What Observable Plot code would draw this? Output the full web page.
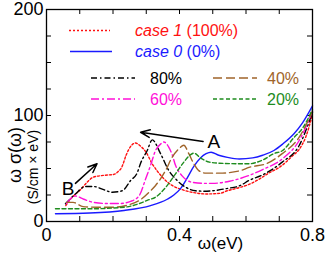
<!DOCTYPE html>
<html>
<head>
<meta charset="utf-8">
<script src="https://cdn.jsdelivr.net/npm/d3@7"></script>
<script src="https://cdn.jsdelivr.net/npm/@observablehq/plot@0.6"></script>
<style>
  html, body { margin: 0; padding: 0; background: #fff; }
  #wrap { position: relative; width: 327px; height: 256px; font-family: "Liberation Sans", Arial, sans-serif; }
  #wrap svg { position: absolute; left: 0; top: 0; }
</style>
</head>
<body>
<div id="wrap"></div>
<script>
// ---- data ----
const seriesNames = ["case 1 (100%)", "case 0 (0%)", "80%", "60%", "40%", "20%"];
const seriesColors = ["#ff1010", "#1a1aff", "#000000", "#ff10d8", "#a0642a", "#1e8c1e"];
const seriesDash = ["2,2", null, "6,3,1.5,3", "8,3,2,3", "9,4", "4,2.5"];

const xCase1 = [0.058,0.072,0.102,0.122,0.142,0.172,0.203,0.215,0.226,0.24,0.256,0.268,0.283,0.298,0.318,0.348,0.378,0.408,0.448,0.48,0.52,0.544,0.58,0.609,0.64,0.67,0.70,0.72,0.74,0.76,0.78,0.80];
const yCase1 = [15,21,30,37,42,43.5,44.5,47,51,63,72,74,71,66,54.5,42,34,30,27,26,26.5,29,32,35,40,46,51,56,62,68,80,101];

const xCase0 = [0.027,0.13,0.233,0.313,0.363,0.383,0.403,0.423,0.443,0.463,0.48,0.495,0.518,0.544,0.58,0.62,0.65,0.684,0.71,0.745,0.77,0.80];
const yCase0 = [7.3,8,10.4,15,21,25,31,41,52,60,64,65.4,62.5,60.5,59,60,62.5,67,73,83,93,109];

const x80 = [0.057,0.087,0.117,0.142,0.172,0.198,0.228,0.253,0.273,0.283,0.303,0.318,0.343,0.368,0.393,0.418,0.448,0.474,0.50,0.54,0.583,0.609,0.65,0.709,0.76,0.80];
const y80 = [16.7,26,33,33,30,27.6,29,38.7,46,55,67,77,64,48,38.7,32.4,29,28.6,29,31,34,38.7,44,56,71.7,103];

const x60 = [0.06,0.087,0.112,0.142,0.18,0.22,0.253,0.278,0.298,0.313,0.328,0.343,0.353,0.368,0.378,0.388,0.408,0.438,0.474,0.50,0.55,0.609,0.65,0.709,0.76,0.80];
const y60 = [17,24,21,18,17,17,19,24,40,53,67,73,75,70,63,53,43,37,36,36,38,43.4,49,59,76.4,104];

const x40 = [0.06,0.08,0.11,0.15,0.20,0.25,0.28,0.313,0.328,0.358,0.378,0.398,0.413,0.428,0.443,0.458,0.48,0.52,0.583,0.609,0.665,0.709,0.76,0.80];
const y40 = [18,18,14,13.5,13.5,16,20,29,34,48,60.7,68.6,72,64,54.5,48,45.6,45.6,48,51,55,64,79.5,104];

const x20 = [0.027,0.13,0.233,0.28,0.303,0.328,0.358,0.388,0.413,0.433,0.443,0.463,0.49,0.52,0.58,0.61,0.65,0.684,0.71,0.745,0.77,0.80];
const y20 = [12,12,13.5,17,20,23,32,45,56,63,64.5,60,56,55,54.5,54.5,58,64,67,79.5,88,106];

const seriesX = [xCase1, xCase0, x80, x60, x40, x20];
const seriesY = [yCase1, yCase0, y80, y60, y40, y20];

const xTickLabels = [0, 0.4, 0.8];
const yTickLabels = [0, 100, 200];
const xMinorTicks = [0, 0.1, 0.2, 0.3, 0.4, 0.5, 0.6, 0.7, 0.8];
const yMinorTicks = [0, 25, 50, 75, 100, 125, 150, 175, 200];

// annotation arrows [x1, y1, x2, y2] and labels
const arrowA = [0.471, 75.5, 0.283, 84.2];
const arrowB = [0.087, 36, 0.152, 54.5];
const labelNames = ["A", "B"];
const labelX = [0.503, 0.065];
const labelY = [75.5, 30.8];

const xTitle = "ω(eV)";
const yTitle = "ω σ(ω)";
const yUnits = "(S/cm × eV)";

// ---- build ----
const rows = seriesNames.flatMap((name, i) =>
  seriesX[i].map((x, j) => ({series: name, x, y: seriesY[i][j]})));
const arrows = [arrowA, arrowB].map(([x1, y1, x2, y2]) => ({x1, y1, x2, y2}));
const labels = labelNames.map((t, i) => ({t, x: labelX[i], y: labelY[i]}));

const W = 327, H = 256, mL = 46, mR = 15, mT = 9, mB = 35;
const innerW = W - mL - mR, innerH = H - mT - mB, tick = 5;

const lineMarks = seriesNames.map((name, i) =>
  Plot.line(rows.filter(d => d.series === name), {
    x: "x", y: "y", stroke: seriesColors[i],
    strokeDasharray: seriesDash[i] ?? undefined,
    strokeWidth: 1.4, curve: "monotone-x"
  }));

const chart = Plot.plot({
  width: W, height: H,
  marginLeft: mL, marginRight: mR, marginTop: mT, marginBottom: mB,
  style: {fontFamily: '"Liberation Sans", Arial, sans-serif', background: "white", color: "black", overflow: "visible"},
  x: {domain: [0, 0.8]},
  y: {domain: [0, 200]},
  marks: [
    Plot.tickX(xMinorTicks, {x: d => d, insetTop: innerH - tick, stroke: "black", strokeWidth: 1}),
    Plot.tickX(xMinorTicks, {x: d => d, insetBottom: innerH - tick, stroke: "black", strokeWidth: 1}),
    Plot.tickY(yMinorTicks, {y: d => d, insetRight: innerW - tick, stroke: "black", strokeWidth: 1}),
    Plot.tickY(yMinorTicks, {y: d => d, insetLeft: innerW - tick, stroke: "black", strokeWidth: 1}),
    Plot.axisX({ticks: xTickLabels, tickSize: 0, tickPadding: 7, fontSize: 18, label: null,
      tickFormat: d => d === 0 ? "0" : String(d)}),
    Plot.axisY({ticks: yTickLabels, tickSize: 0, tickPadding: 3, fontSize: 18, label: null}),
    ...lineMarks,
    Plot.arrow(arrows, {x1: "x1", y1: "y1", x2: "x2", y2: "y2", stroke: "black",
      strokeWidth: 1.5, headLength: 10, headAngle: 45}),
    Plot.text(labels, {x: "x", y: "y", text: "t", fontSize: 19, fill: "black", lineAnchor: "middle"}),
    Plot.text([xTitle], {frameAnchor: "bottom", dx: 41, dy: 22, fontSize: 17, lineAnchor: "middle", fill: "black"}),
    Plot.frame({stroke: "black", strokeWidth: 1.3})
  ]
});

const wrap = document.getElementById("wrap");
wrap.appendChild(chart);

// ---- overlay: legend inside the frame + rotated y titles ----
const legendPos = [
  {lx1: 69, lx2: 110, ly: 30.5, tx: 135},
  {lx1: 70, lx2: 112, ly: 51.5, tx: 135},
  {lx1: 91, lx2: 135, ly: 78, tx: 150},
  {lx1: 91, lx2: 135, ly: 99, tx: 150},
  {lx1: 213, lx2: 257, ly: 78, tx: 267},
  {lx1: 213, lx2: 257, ly: 99, tx: 267}
];
const ns = "http://www.w3.org/2000/svg";
const leg = document.createElementNS(ns, "svg");
leg.setAttribute("width", W); leg.setAttribute("height", H);
leg.style.pointerEvents = "none";
leg.style.fontFamily = '"Liberation Sans", Arial, sans-serif';
seriesNames.forEach((name, i) => {
  const p = legendPos[i];
  const ln = document.createElementNS(ns, "line");
  ln.setAttribute("x1", p.lx1); ln.setAttribute("x2", p.lx2);
  ln.setAttribute("y1", p.ly); ln.setAttribute("y2", p.ly);
  ln.setAttribute("stroke", seriesColors[i]); ln.setAttribute("stroke-width", 1.4);
  if (seriesDash[i]) ln.setAttribute("stroke-dasharray", seriesDash[i]);
  leg.appendChild(ln);
  const tx = document.createElementNS(ns, "text");
  tx.setAttribute("x", p.tx); tx.setAttribute("y", p.ly);
  tx.setAttribute("dy", "0.35em");
  tx.setAttribute("font-size", 16);
  tx.setAttribute("fill", seriesColors[i]);
  const m = name.match(/^(case \d) (.*)$/);
  if (m) {
    const a = document.createElementNS(ns, "tspan");
    a.setAttribute("font-style", "italic"); a.textContent = m[1] + " ";
    const b = document.createElementNS(ns, "tspan");
    b.textContent = m[2];
    tx.appendChild(a); tx.appendChild(b);
  } else {
    tx.textContent = name;
  }
  leg.appendChild(tx);
});
function rotText(str, cx, cy, size) {
  const t = document.createElementNS(ns, "text");
  t.setAttribute("transform", `translate(${cx},${cy}) rotate(-90)`);
  t.setAttribute("text-anchor", "middle");
  t.setAttribute("dy", "0.35em");
  t.setAttribute("font-size", size);
  t.setAttribute("fill", "black");
  t.textContent = str;
  leg.appendChild(t);
}
rotText(yTitle, 15, 155, 18);
rotText(yUnits, 33, 167, 14);
wrap.appendChild(leg);
</script>
</body>
</html>
